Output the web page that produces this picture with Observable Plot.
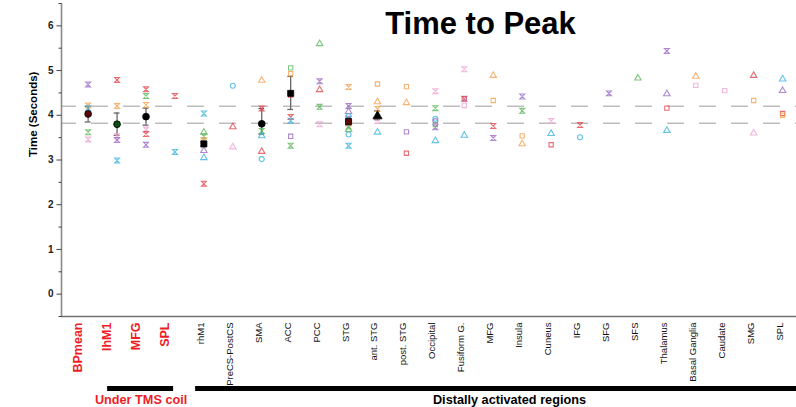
<!DOCTYPE html>
<html>
<head>
<meta charset="utf-8">
<script src="https://cdn.jsdelivr.net/npm/d3@7"></script>
<script src="https://cdn.jsdelivr.net/npm/@observablehq/plot@0.6"></script>
<style>
  html, body { margin: 0; padding: 0; background: #fff; }
  #chart svg { display: block; }
</style>
</head>
<body>
<div id="chart"></div>
<script>
// ---------- data ----------
const title = "Time to Peak";
const yLabel = "Time (Seconds)";
const regions = ["BPmean","lhM1","MFG","SPL","rhM1","PreCS-PostCS","SMA","ACC","PCC","STG",
  "ant. STG","post. STG","Occipital","Fusiform G.","MFG","Insula","Cuneus","IFG","SFG","SFS",
  "Thalamus","Basal Ganglia","Caudate","SMG","SPL"];
const underCoilCount = 4;
const groupLabels = ["Under TMS coil", "Distally activated regions"];
const yTicks = [0, 1, 2, 3, 4, 5, 6];
const yMinorTicks = [-0.5, 0.5, 1.5, 2.5, 3.5, 4.5, 5.5, 6.5];
const refLines = [4.2, 3.82];

// individual points: [region index (1-based), time, series colour key, marker key]
const subjectPoints = [
  [1,4.69,"purple","x"],[1,4.22,"orange","x"],[1,4.16,"cyan","x"],[1,3.62,"green","x"],[1,3.46,"pink","x"],
  [2,4.79,"red","x"],[2,4.21,"orange","x"],[2,3.53,"pink","x"],[2,3.45,"purple","x"],[2,2.99,"cyan","x"],
  [3,4.58,"red","x"],[3,4.43,"green","x"],[3,4.23,"orange","x"],[3,3.68,"pink","x"],[3,3.58,"red","x"],[3,3.34,"purple","x"],
  [4,4.43,"red","x"],[4,3.18,"cyan","x"],
  [5,4.04,"cyan","x"],[5,3.62,"green","tri"],[5,3.53,"green","x"],[5,3.44,"orange","x"],[5,3.21,"purple","tri"],[5,3.05,"cyan","tri"],[5,2.47,"red","x"],
  [6,4.66,"cyan","circ"],[6,3.74,"red","tri"],[6,3.29,"pink","tri"],
  [7,4.78,"orange","tri"],[7,4.15,"red","x"],[7,3.65,"green","x"],[7,3.54,"cyan","tri"],[7,3.19,"red","tri"],[7,3.02,"cyan","circ"],
  [8,5.06,"green","sq"],[8,4.93,"orange","sq"],[8,4.45,"red","sq"],[8,3.96,"red","x"],[8,3.88,"cyan","x"],[8,3.53,"purple","sq"],[8,3.32,"green","x"],
  [9,5.60,"green","tri"],[9,4.76,"purple","x"],[9,4.57,"red","tri"],[9,4.19,"green","x"],[9,3.80,"pink","x"],
  [10,4.63,"orange","x"],[10,4.21,"purple","x"],[10,4.08,"purple","tri"],[10,3.98,"cyan","circ"],[10,3.92,"purple","x"],[10,3.82,"red","x"],[10,3.75,"green","x"],[10,3.68,"green","tri"],[10,3.57,"cyan","circ"],[10,3.32,"cyan","x"],
  [11,4.70,"orange","sq"],[11,4.30,"orange","tri"],[11,4.14,"orange","x"],[11,3.87,"pink","x"],[11,3.62,"cyan","tri"],
  [12,4.64,"orange","sq"],[12,4.28,"orange","tri"],[12,3.63,"purple","sq"],[12,3.15,"red","sq"],
  [13,4.54,"pink","x"],[13,4.16,"green","x"],[13,3.92,"cyan","circ"],[13,3.87,"purple","circ"],[13,3.79,"green","sq"],[13,3.73,"purple","x"],[13,3.43,"cyan","tri"],
  [14,5.03,"pink","x"],[14,4.37,"red","sq"],[14,4.37,"purple","x"],[14,4.22,"pink","sq"],[14,3.55,"cyan","tri"],
  [15,4.89,"orange","tri"],[15,4.33,"orange","sq"],[15,3.76,"red","x"],[15,3.49,"purple","x"],
  [16,4.42,"purple","x"],[16,4.10,"green","x"],[16,3.54,"orange","sq"],[16,3.36,"orange","tri"],
  [17,3.87,"pink","x"],[17,3.59,"cyan","tri"],[17,3.34,"red","sq"],
  [18,3.78,"red","x"],[18,3.51,"cyan","circ"],
  [19,4.49,"purple","x"],
  [20,4.83,"green","tri"],
  [21,5.44,"purple","x"],[21,4.48,"purple","tri"],[21,4.16,"red","sq"],[21,3.66,"cyan","tri"],
  [22,4.87,"orange","tri"],[22,4.67,"pink","sq"],
  [23,4.55,"pink","sq"],
  [24,4.89,"red","tri"],[24,4.33,"orange","sq"],[24,3.60,"pink","tri"],
  [25,4.81,"cyan","tri"],[25,4.55,"purple","tri"],[25,4.04,"red","sq"],[25,4.00,"orange","sq"]
];

// group means with error bars: [region index, mean, low, high, colour key, marker key]
const groupMeans = [
  [1,4.03,3.85,4.20,"darkred","circ"],
  [2,3.80,3.55,4.05,"darkgreen","circ"],
  [3,3.97,3.78,4.16,"black","circ"],
  [5,3.36,3.30,3.42,"black","sq"],
  [7,3.81,3.58,4.15,"black","circ"],
  [8,4.49,4.13,4.87,"black","sq"],
  [10,3.86,3.79,3.94,"darkred","sq"],
  [11,3.98,3.90,4.10,"black","tri"]
];

// ---------- styles ----------
const palette = {
  purple: "#9a6bc6", orange: "#f7a04e", green: "#5cb85c", red: "#e3474f",
  pink: "#eea3d3", cyan: "#3cb4e0",
  darkred: "#5a0808", darkgreen: "#0d4d14", black: "#000000"
};
const hourglass = {
  draw(ctx, size) {
    const h = Math.sqrt(size) / 2.1;
    ctx.moveTo(-h, -h); ctx.lineTo(h, -h); ctx.lineTo(-h, h); ctx.lineTo(h, h); ctx.closePath();
  }
};
const tickMark = (len) => ({ draw(ctx) { ctx.moveTo(-len, 0); ctx.lineTo(0, 0); } });
const shapes = { x: hourglass, tri: "triangle", sq: "square", circ: "circle" };
const shapeR = { x: 2.9, tri: 2.4, sq: 2.4, circ: 2.5 };
const FONT = "'Liberation Sans', Arial, Helvetica, sans-serif";

const pts = subjectPoints.map(([col, v, c, s]) => ({ col, v, c, s }));
const means = groupMeans.map(([col, v, lo, hi, c, s]) => ({ col, v, lo, hi, c, s }));
const labels = regions.map((r, i) => ({ col: i + 1, r }));

const marks = [];
// dashed reference lines
marks.push(Plot.ruleY(refLines, { stroke: "#bdbdbd", strokeWidth: 1.5, strokeDasharray: "17,15", strokeDashoffset: 2 }));
// axes lines
marks.push(Plot.ruleX([0.08], { stroke: "#8a8a8a", strokeWidth: 1.6 }));
marks.push(Plot.ruleY([-0.5], { stroke: "#707070", strokeWidth: 1.3 }));
// y ticks
marks.push(Plot.dot(yTicks, { y: d => d, frameAnchor: "left", symbol: tickMark(5), stroke: "#444", fill: "none", strokeWidth: 1 }));
marks.push(Plot.dot(yMinorTicks, { y: d => d, frameAnchor: "left", symbol: tickMark(3), stroke: "#444", fill: "none", strokeWidth: 1 }));
marks.push(Plot.text(yTicks, { y: d => d, text: d => String(d), frameAnchor: "left", textAnchor: "end", dx: -8, fontSize: 10, fontWeight: "bold", fill: "#222" }));
// y label
marks.push(Plot.text([yLabel], { text: d => d, frameAnchor: "left", rotate: -90, dx: -28, dy: -3, fontSize: 11.5, fontWeight: "bold", fill: "#000" }));
// title
marks.push(Plot.text([{ x: 14.56, t: title }], { x: "x", text: "t", frameAnchor: "top", lineAnchor: "bottom", dy: 30, fontSize: 31, fontWeight: "bold", fill: "#000" }));
// error bars
marks.push(Plot.ruleX(means, { x: "col", y1: "lo", y2: "hi", stroke: "#666", strokeWidth: 1.3 }));
marks.push(Plot.ruleY(means, { y: "lo", x1: d => d.col - 0.1, x2: d => d.col + 0.1, stroke: "#666", strokeWidth: 1.3 }));
marks.push(Plot.ruleY(means, { y: "hi", x1: d => d.col - 0.1, x2: d => d.col + 0.1, stroke: "#666", strokeWidth: 1.3 }));
// subject points
for (const s of Object.keys(shapes)) {
  marks.push(Plot.dot(pts.filter(d => d.s === s), {
    x: "col", y: "v", stroke: d => palette[d.c], fill: "none",
    symbol: shapes[s], r: shapeR[s], strokeWidth: 1.1, strokeOpacity: 0.8
  }));
}
// means
for (const s of Object.keys(shapes)) {
  const sub = means.filter(d => d.s === s);
  if (!sub.length) continue;
  marks.push(Plot.dot(sub, { x: "col", y: "v", fill: d => palette[d.c], stroke: "#000", strokeWidth: 0.8, symbol: shapes[s], r: 3.4 }));
}
// region labels
marks.push(Plot.text(labels.filter(d => d.col <= underCoilCount), {
  x: "col", text: "r", frameAnchor: "bottom", rotate: -90, textAnchor: "end", dy: 6, dx: -6,
  fontSize: 12.5, fontWeight: "bold", fill: "#ee1c25"
}));
marks.push(Plot.text(labels.filter(d => d.col > underCoilCount), {
  x: "col", text: "r", frameAnchor: "bottom", rotate: -90, textAnchor: "end", dy: 6,
  fontSize: 9.5, fontWeight: "normal", fill: "#111"
}));
// group bars and labels
marks.push(Plot.ruleY([-0.5], { x1: 1.674, x2: 3.954, dy: 72, stroke: "#000", strokeWidth: 5 }));
marks.push(Plot.ruleY([-0.5], { x1: 4.715, x2: 25.48, dy: 72, stroke: "#000", strokeWidth: 5 }));
marks.push(Plot.text([{ x: 2.83, t: groupLabels[0] }], { x: "x", text: "t", frameAnchor: "bottom", lineAnchor: "bottom", dy: 87, fontSize: 12.7, fontWeight: "bold", fill: "#ee1c25" }));
marks.push(Plot.text([{ x: 15.56, t: groupLabels[1] }], { x: "x", text: "t", frameAnchor: "bottom", lineAnchor: "bottom", dy: 87, fontSize: 12.7, fontWeight: "bold", fill: "#000" }));

const chart = Plot.plot({
  width: 796,
  height: 407,
  marginTop: 3,
  marginBottom: 91,
  marginLeft: 61,
  marginRight: 0,
  style: { fontFamily: FONT, background: "#fff", overflow: "visible" },
  x: { type: "linear", domain: [0.08, 25.48], axis: null },
  y: { domain: [-0.5, 6.5], axis: null },
  color: { type: "identity" },
  marks
});
document.getElementById("chart").appendChild(chart);
</script>
</body>
</html>
